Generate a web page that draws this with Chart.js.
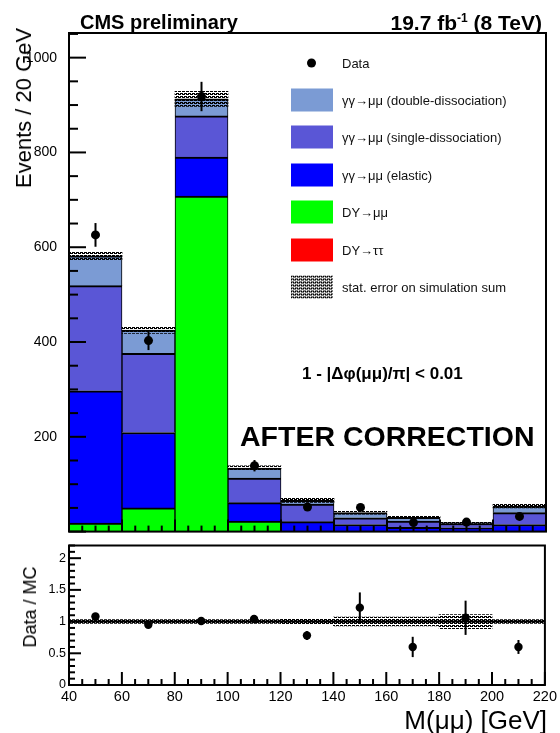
<!DOCTYPE html>
<html>
<head>
<meta charset="utf-8">
<title>M(μμ) after correction</title>
<script src="https://cdn.jsdelivr.net/npm/chart.js@4.4.1/dist/chart.umd.min.js"></script>
<style>
  body { margin:0; background:#fff; }
  #page { position:relative; width:560px; height:733px; overflow:hidden; font-family:"Liberation Sans", Arial, sans-serif; color:#000; }
  #page canvas { position:absolute; left:0; }
  #mainChart { top:0; }
  #ratioChart { top:535px; }
  .txt { position:absolute; white-space:nowrap; line-height:1; }
  .rot { transform:translate(-50%,-50%) rotate(-90deg); }
  .legbox { position:absolute; left:291px; width:42px; height:23px; transform:translateY(-50%); }
  .legtxt { position:absolute; left:342px; font-size:13px; line-height:1; white-space:nowrap; transform:translateY(-50%); color:#111; }
  .legdot { position:absolute; left:307px; width:9px; height:9px; border-radius:50%; background:#000; transform:translateY(-50%); }
</style>
</head>
<body>
<div id="page">
  <canvas id="mainChart" width="560" height="544"></canvas>
  <canvas id="ratioChart" width="560" height="198"></canvas>

  <div class="txt" style="left:80px;top:12px;font-size:20px;font-weight:bold;">CMS preliminary</div>
  <div class="txt" style="right:18px;top:12px;font-size:21px;font-weight:bold;">19.7 fb<span style="font-size:12px;position:relative;top:-8px;">-1</span> (8 TeV)</div>
  <div class="txt rot" style="left:24px;top:108px;font-size:22px;">Events / 20 GeV</div>
  <div class="txt rot" style="left:30px;top:607px;font-size:18px;">Data / MC</div>
  <div class="txt" style="right:13px;top:707px;font-size:26px;">M(μμ) [GeV]</div>
  <div class="txt" style="left:302px;top:365px;font-size:17px;font-weight:bold;">1 - |Δφ(μμ)/π| &lt; 0.01</div>
  <div class="txt" style="left:240px;top:422px;font-size:28.5px;font-weight:bold;">AFTER CORRECTION</div>
  <div id="legend"></div>
</div>

<script>
/* ── data ── */
const BIN_CENTERS = [50, 70, 90, 110, 130, 150, 170, 190, 210];
const DY_TAUTAU   = [0, 0, 0, 0, 0, 0, 0, 0, 0];
const DY_MUMU     = [18, 50, 708, 22, 0, 0, 0, 0, 0];
const GG_ELASTIC  = [279, 159, 82, 39, 21, 15, 9, 8, 15];
const GG_SINGLE   = [222, 167, 87, 52, 37, 14, 13, 9, 25];
const GG_DOUBLE   = [63, 49, 36, 21, 8, 11, 8, 2, 14];
const MC_STAT     = [8, 7, 16, 5, 4.5, 3, 2.5, 2, 4];
const DATA        = [626, 403, 918, 139, 52, 51, 19, 20, 32];
const DATA_ERR    = [25, 20, 31, 12, 7, 7, 4.5, 4.5, 5.7];
const RATIO       = [1.08, 0.95, 1.01, 1.04, 0.78, 1.22, 0.60, 1.06, 0.60];
const RATIO_ERR   = [0.04, 0.04, 0.04, 0.06, 0.07, 0.24, 0.16, 0.27, 0.11];
const RATIO_BAND  = [0.03, 0.03, 0.03, 0.03, 0.045, 0.07, 0.07, 0.11, 0.03];

const X_TICKS     = [40, 60, 80, 100, 120, 140, 160, 180, 200, 220];
const Y_TICKS     = [200, 400, 600, 800, 1000];
const R_TICKS     = [0, 0.5, 1, 1.5, 2];

const C_TT = '#ff0000', C_MM = '#00ff00', C_EL = '#0000ff', C_SD = '#5a56d6', C_DD = '#7b9bd4';

const LEGEND = [
  { label:'γγ→μμ (double-dissociation)', color:C_DD },
  { label:'γγ→μμ (single-dissociation)', color:C_SD },
  { label:'γγ→μμ (elastic)',             color:C_EL },
  { label:'DY→μμ',                       color:C_MM },
  { label:'DY→ττ',                       color:C_TT },
  { label:'stat. error on simulation sum', color:null },
];

Chart.defaults.font.family = '"Liberation Sans", Arial, sans-serif';
Chart.defaults.color = '#000';

/* ── hatch fill like ROOT's stat band ── */
function makeHatch() {
  const c = document.createElement('canvas');
  c.width = 4; c.height = 3;
  const g = c.getContext('2d');
  g.fillStyle = '#000';
  g.fillRect(0, 0, 3, 1);
  g.fillRect(2, 1, 2, 1); g.fillRect(0, 1, 1, 1);
  return c;
}
const hatchCanvas = makeHatch();
const hatch = document.createElement('canvas').getContext('2d').createPattern(hatchCanvas, 'repeat');

const xy = arr => BIN_CENTERS.map((x, i) => ({ x, y: arr[i] }));
const MC_TOTAL = BIN_CENTERS.map((_, i) => DY_TAUTAU[i] + DY_MUMU[i] + GG_ELASTIC[i] + GG_SINGLE[i] + GG_DOUBLE[i]);

/* ── frame, inward ticks, error bars ── */
const rootFrame = {
  id: 'rootFrame',
  beforeDatasetsDraw(chart, args, o) {
    if (o.refLine === undefined) return;
    const { ctx, chartArea: a } = chart;
    const y = chart.scales.y.getPixelForValue(o.refLine);
    ctx.save();
    ctx.strokeStyle = '#000'; ctx.lineWidth = 2;
    ctx.beginPath(); ctx.moveTo(a.left, y); ctx.lineTo(a.right, y); ctx.stroke();
    ctx.restore();
  },
  afterDatasetsDraw(chart, args, o) {
    const { ctx, chartArea: a, scales } = chart;
    const xs = scales.x, ys = scales.y;
    ctx.save();
    ctx.strokeStyle = '#000';
    if (o.err) {
      const ev = scales[o.err.axis];
      ctx.lineWidth = 2;
      o.err.x.forEach((xv, i) => {
        const px = xs.getPixelForValue(xv);
        ctx.beginPath();
        ctx.moveTo(px, ev.getPixelForValue(o.err.y[i] - o.err.e[i]));
        ctx.lineTo(px, ev.getPixelForValue(o.err.y[i] + o.err.e[i]));
        ctx.stroke();
      });
    }
    ctx.lineWidth = 2;
    const ny = Math.round((ys.max - ys.min) / o.yStep);
    for (let k = 0; k <= ny; k++) {
      const py = ys.getPixelForValue(ys.min + k * o.yStep);
      const len = k % o.yEvery === 0 ? o.yLong : o.yShort;
      ctx.beginPath(); ctx.moveTo(a.left, py); ctx.lineTo(a.left + len, py); ctx.stroke();
    }
    const nx = Math.round((xs.max - xs.min) / o.xStep);
    for (let k = 0; k <= nx; k++) {
      const px = xs.getPixelForValue(xs.min + k * o.xStep);
      const len = k % o.xEvery === 0 ? o.xLong : o.xShort;
      ctx.beginPath(); ctx.moveTo(px, a.bottom); ctx.lineTo(px, a.bottom - len); ctx.stroke();
    }
    ctx.lineWidth = 2;
    ctx.strokeRect(a.left, a.top, a.right - a.left, a.bottom - a.top);
    ctx.restore();
  }
};

const fixW = w => scale => { scale.width = w; };
const fixH = h => scale => { scale.height = h; };
const setTicks = list => scale => { scale.ticks = list.map(v => ({ value: v })); };

function stackSet(label, arr, color) {
  return {
    label, data: xy(arr), backgroundColor: color, borderColor: '#000',
    borderWidth: { top: 2, left: 1, right: 1, bottom: 0 }, borderSkipped: false,
    barPercentage: 1, categoryPercentage: 1, order: 2
  };
}

/* ── main stacked histogram ── */
new Chart(document.getElementById('mainChart'), {
  type: 'bar',
  data: {
    datasets: [
      stackSet('DY→ττ', DY_TAUTAU, C_TT),
      stackSet('DY→μμ', DY_MUMU, C_MM),
      stackSet('γγ→μμ (elastic)', GG_ELASTIC, C_EL),
      stackSet('γγ→μμ (single-dissociation)', GG_SINGLE, C_SD),
      stackSet('γγ→μμ (double-dissociation)', GG_DOUBLE, C_DD),
      {
        label: 'stat. error', yAxisID: 'yh', grouped: false, order: 1,
        data: BIN_CENTERS.map((x, i) => ({ x, y: [MC_TOTAL[i] - MC_STAT[i], MC_TOTAL[i] + MC_STAT[i]] })),
        backgroundColor: hatch, borderWidth: 0, barPercentage: 1, categoryPercentage: 1
      },
      {
        type: 'scatter', label: 'Data', yAxisID: 'yh', order: 0,
        data: xy(DATA), pointRadius: 4.5, backgroundColor: '#000', borderWidth: 0
      }
    ]
  },
  options: {
    responsive: false, animation: false,
    layout: { autoPadding: false, padding: { top: 33, right: 14, bottom: 6, left: 0 } },
    plugins: {
      legend: { display: false }, tooltip: { enabled: false },
      rootFrame: {
        yStep: 50, yEvery: 4, yLong: 17, yShort: 9,
        xStep: 5, xEvery: 4, xLong: 12, xShort: 6,
        err: { axis: 'yh', x: BIN_CENTERS, y: DATA, e: DATA_ERR }
      }
    },
    scales: {
      x: { type: 'linear', min: 40, max: 220, offset: false, stacked: true, display: false,
           afterBuildTicks: setTicks(X_TICKS) },
      y: { min: 0, max: 1052, stacked: true,
           grid: { display: false }, border: { display: false },
           afterBuildTicks: setTicks(Y_TICKS), afterFit: fixW(69),
           ticks: { font: { size: 14 }, padding: 4, callback: v => String(v) } },
      yh: { min: 0, max: 1052, display: false }
    }
  },
  plugins: [rootFrame]
});

/* ── ratio panel ── */
new Chart(document.getElementById('ratioChart'), {
  type: 'bar',
  data: {
    datasets: [
      {
        label: 'MC stat', grouped: false, order: 1,
        data: BIN_CENTERS.map((x, i) => ({ x, y: [1 - RATIO_BAND[i], 1 + RATIO_BAND[i]] })),
        backgroundColor: hatch, borderWidth: 0, barPercentage: 1, categoryPercentage: 1
      },
      {
        type: 'scatter', label: 'Data / MC', order: 0,
        data: xy(RATIO), pointRadius: 4.2, backgroundColor: '#000', borderWidth: 0
      }
    ]
  },
  options: {
    responsive: false, animation: false,
    layout: { autoPadding: false, padding: { top: 7, right: 14, bottom: 0, left: 0 } },
    plugins: {
      legend: { display: false }, tooltip: { enabled: false },
      rootFrame: {
        refLine: 1,
        yStep: 0.1, yEvery: 5, yLong: 12, yShort: 6,
        xStep: 5, xEvery: 4, xLong: 13, xShort: 6,
        err: { axis: 'y', x: BIN_CENTERS, y: RATIO, e: RATIO_ERR }
      }
    },
    scales: {
      x: { type: 'linear', min: 40, max: 220, offset: false,
           grid: { display: false, drawTicks: false }, border: { display: false },
           afterBuildTicks: setTicks(X_TICKS), afterFit: fixH(48),
           ticks: { font: { size: 14.5 }, padding: 3, maxRotation: 0, autoSkip: false, callback: v => String(v) } },
      y: { min: 0, max: 2.2,
           grid: { display: false, drawTicks: false }, border: { display: false },
           afterBuildTicks: setTicks(R_TICKS), afterFit: fixW(69),
           ticks: { font: { size: 12.5 }, padding: 3, callback: v => String(v) } }
    }
  },
  plugins: [rootFrame]
});

/* ── in-frame legend ── */
const leg = document.getElementById('legend');
const dot = document.createElement('div');
dot.className = 'legdot'; dot.style.top = '63px';
leg.appendChild(dot);
const dataTxt = document.createElement('div');
dataTxt.className = 'legtxt'; dataTxt.style.top = '63px'; dataTxt.textContent = 'Data';
leg.appendChild(dataTxt);
LEGEND.forEach((e, i) => {
  const cy = 100 + i * 37.4;
  const box = document.createElement('div');
  box.className = 'legbox'; box.style.top = cy + 'px';
  if (e.color) box.style.background = e.color;
  else box.style.backgroundImage = 'url(' + hatchCanvas.toDataURL() + ')';
  leg.appendChild(box);
  const t = document.createElement('div');
  t.className = 'legtxt'; t.style.top = cy + 'px'; t.textContent = e.label;
  leg.appendChild(t);
});
</script>
</body>
</html>
